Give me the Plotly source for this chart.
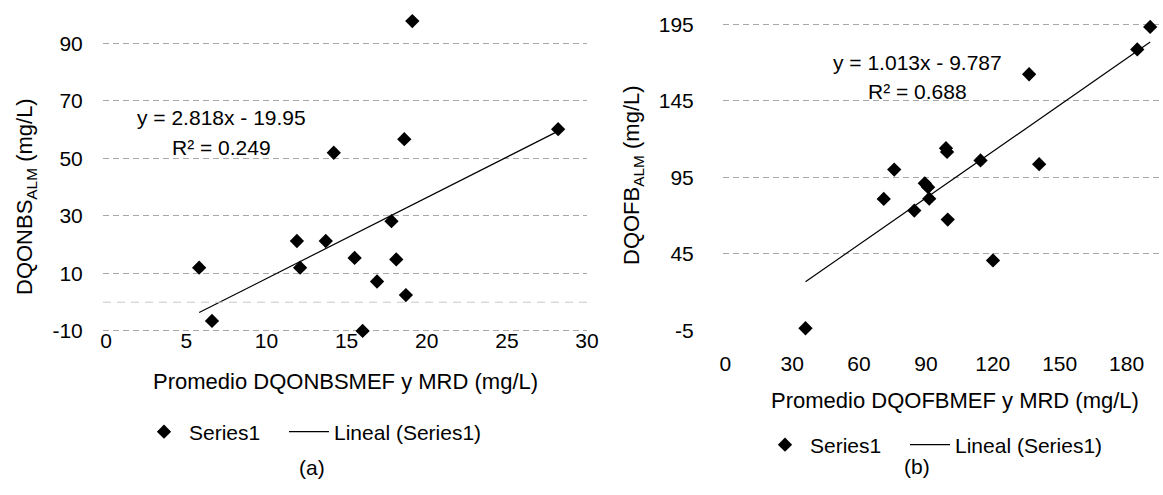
import plotly.graph_objects as go

# ---------------- data ----------------
# Chart (a)
a_x = [19.1, 28.2, 18.6, 14.2, 17.8, 11.9, 13.7, 15.5, 18.1, 5.8, 12.1, 16.9, 18.7, 6.6, 16.0]
a_y = [97.8, 60.2, 56.7, 52.0, 28.2, 21.3, 21.3, 15.4, 14.9, 12.0, 12.0, 7.2, 2.5, -6.5, -10.0]
a_slope, a_intercept = 2.818, -19.95
a_eq = "y = 2.818x - 19.95"
a_r2 = "R² = 0.249"

# Chart (b)
b_x = [190.6, 184.8, 136.3, 99.0, 99.5, 114.5, 140.8, 75.8, 89.5, 91.0, 91.5, 71.1, 84.8, 99.8, 120.1, 36.0]
b_y = [193.2, 178.5, 162.3, 114.0, 111.5, 106.0, 103.5, 100.0, 91.0, 88.5, 81.0, 80.8, 73.2, 67.3, 40.6, -3.7]
b_slope, b_intercept = 1.013, -9.787
b_eq = "y = 1.013x - 9.787"
b_r2 = "R² = 0.688"

a_xticks = [0, 5, 10, 15, 20, 25, 30]
a_yticks = [-10, 10, 30, 50, 70, 90]
b_xticks = [0, 30, 60, 90, 120, 150, 180]
b_yticks = [-5, 45, 95, 145, 195]

series_name = "Series1"
trend_name = "Lineal (Series1)"

# ---------------- helpers ----------------
W, H = 1163, 495
FONT = "Liberation Sans, Arial, sans-serif"


def px(x):
    return x / W


def py(y):
    return 1 - y / H


def trend(xs, m, b):
    lo, hi = min(xs), max(xs)
    return [lo, hi], [m * lo + b, m * hi + b]


fig = go.Figure()

# (a)
fig.add_trace(go.Scatter(x=a_x, y=a_y, mode="markers", name=series_name, cliponaxis=False,
                         marker=dict(symbol="diamond", size=11, color="black"),
                         xaxis="x", yaxis="y", legend="legend"))
tx, ty = trend(a_x, a_slope, a_intercept)
fig.add_trace(go.Scatter(x=tx, y=ty, mode="lines", name=trend_name,
                         line=dict(color="black", width=1.2),
                         xaxis="x", yaxis="y", legend="legend2"))

# (b)
fig.add_trace(go.Scatter(x=b_x, y=b_y, mode="markers", name=series_name, cliponaxis=False,
                         marker=dict(symbol="diamond", size=11, color="black"),
                         xaxis="x2", yaxis="y2", legend="legend3"))
tx, ty = trend(b_x, b_slope, b_intercept)
fig.add_trace(go.Scatter(x=tx, y=ty, mode="lines", name=trend_name,
                         line=dict(color="black", width=1.2),
                         xaxis="x2", yaxis="y2", legend="legend4"))

grid = dict(showgrid=True, gridcolor="#a8a8a8", gridwidth=1, griddash="6px,4px")
tickfont = dict(family=FONT, size=21, color="black")
common = dict(showline=False, zeroline=False, tickfont=tickfont, automargin=False,
              ticks="outside", tickcolor="rgba(0,0,0,0)")
legfont = dict(family=FONT, size=21, color="black")


def leg(x, y):
    return dict(orientation="h", x=px(x), y=py(y), xanchor="left", yanchor="middle",
                font=legfont, bgcolor="rgba(0,0,0,0)", itemwidth=40)


fig.update_layout(
    width=W, height=H,
    margin=dict(l=0, r=0, t=0, b=0, autoexpand=False),
    paper_bgcolor="white", plot_bgcolor="white",
    font=dict(family=FONT, size=21, color="black"),
    xaxis=dict(domain=[px(103), px(587)], range=[-0.2, 30], anchor="free", position=py(321),
               tickvals=a_xticks, ticktext=[str(v) for v in a_xticks],
               showgrid=False, ticklen=1, **common),
    yaxis=dict(domain=[py(332.4), py(14.75)], range=[-10.5, 100], anchor="x",
               tickvals=a_yticks, ticktext=[str(v) for v in a_yticks],
               ticklen=15, **grid, **common),
    xaxis2=dict(domain=[px(723), px(1160)], range=[-1, 195], anchor="y2",
                tickvals=b_xticks, ticktext=[str(v) for v in b_xticks],
                showgrid=False, ticklen=14, **common),
    yaxis2=dict(domain=[py(331), py(19.6)], range=[-5.5, 198], anchor="x2",
                tickvals=b_yticks, ticktext=[str(v) for v in b_yticks],
                ticklen=24, **grid, **common),
    legend=leg(139, 432),
    legend2=leg(284, 432),
    legend3=leg(760, 445),
    legend4=leg(905, 445),
    showlegend=True,
)

# zero line fragment of chart (a)
fig.add_hline(y=0, line=dict(color="#c8c8c8", width=1, dash="8px,6px"), xref="x", yref="y")

ann = [
    dict(text=a_eq, x=px(221), y=py(118)),
    dict(text=a_r2, x=px(221), y=py(147)),
    dict(text=b_eq, x=px(917), y=py(62)),
    dict(text=b_r2, x=px(917), y=py(92)),
    dict(text="Promedio DQONBSMEF y MRD (mg/L)", x=px(345), y=py(381), size=22),
    dict(text="Promedio DQOFBMEF y MRD (mg/L)", x=px(955), y=py(400), size=22),
    dict(text="(a)", x=px(312), y=py(467)),
    dict(text="(b)", x=px(917), y=py(466)),
    dict(text="DQONBS<sub>ALM</sub> (mg/L)", x=px(26), y=py(197), angle=-90, size=22),
    dict(text="DQOFB<sub>ALM</sub> (mg/L)", x=px(633), y=py(175), angle=-90, size=22),
]
for a in ann:
    fig.add_annotation(text=a["text"], x=a["x"], y=a["y"], xref="paper", yref="paper",
                       showarrow=False, xanchor="center", yanchor="middle",
                       textangle=a.get("angle", 0),
                       font=dict(family=FONT, size=a.get("size", 21), color="black"))

fig.write_html("out.html", config={"displayModeBar": False},
               post_script="document.body.style.margin='0';")
